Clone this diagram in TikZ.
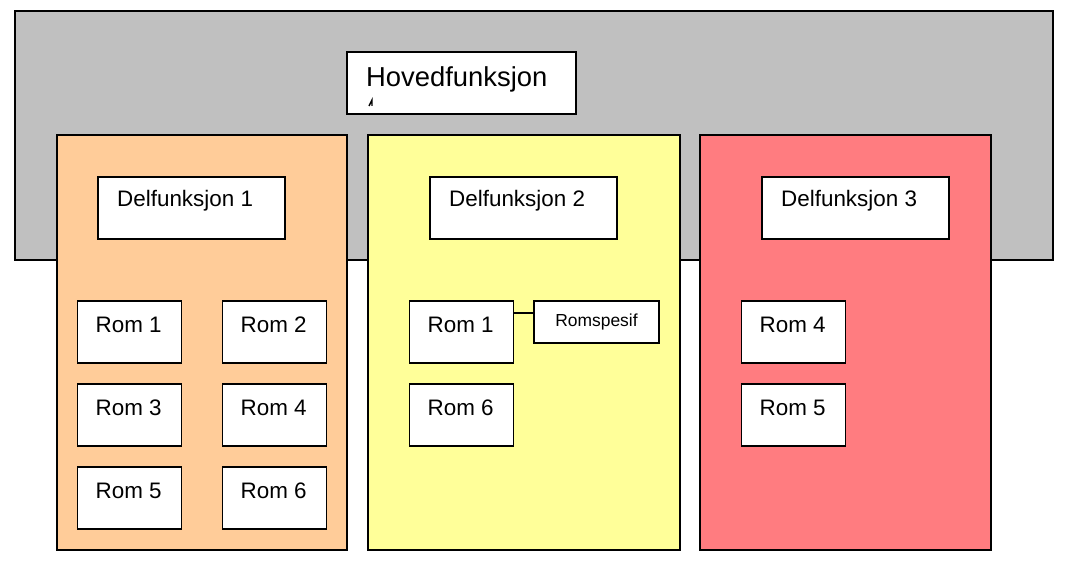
\documentclass[tikz,border=0pt]{standalone}
\usepackage{fontspec}
\setmainfont{Liberation Sans}
\begin{document}
\begin{tikzpicture}[x=1bp,y=-1bp,
  box/.style={draw=black,line width=1.3bp,fill=white,inner sep=0pt,outer sep=0pt,rectangle},
  panel/.style={draw=black,line width=1.3bp,inner sep=0pt,outer sep=0pt,rectangle},
  romtxt/.style={anchor=base west,inner sep=0pt,font=\fontsize{22.5}{26}\selectfont},
  deltxt/.style={anchor=base west,inner sep=0pt,font=\fontsize{22.5}{26}\selectfont},
]
\useasboundingbox (0,0) rectangle (1083,568);
% background panel
\node[panel,fill={rgb,255:red,192;green,192;blue,192},minimum width=1038bp,minimum height=249bp] (main) at (534,135.5) {};
\node[box,minimum width=229bp,minimum height=62bp] (hoved) at (461.5,83) {};
\node[anchor=base west,inner sep=0pt,font=\fontsize{27.5}{32}\selectfont] (hovedt) at ([xshift=19bp,yshift=-35bp]hoved.north west) {Hovedfunksjon};
\draw[line width=1.4bp] (369,106) -- (372,100) -- (372,106);
% coloured panels
\node[panel,fill={rgb,255:red,255;green,204;blue,153},minimum width=290bp,minimum height=415bp] (p1) at (202,342.5) {};
\node[panel,fill={rgb,255:red,255;green,255;blue,153},minimum width=312bp,minimum height=415bp] (p2) at (524,342.5) {};
\node[panel,fill={rgb,255:red,255;green,124;blue,128},minimum width=291bp,minimum height=415bp] (p3) at (845.5,342.5) {};
% delfunksjon boxes
\foreach \i/\x in {1/191.5,2/523.5,3/855.5}{
  \node[box,minimum width=187bp,minimum height=62bp] (d\i) at (\x,208) {};
  \node[deltxt] (d\i t) at ([xshift=19bp,yshift=-30bp]d\i.north west) {Delfunksjon \i};
}
% rom boxes
\foreach \n/\lab/\x/\y in {a/1/129.5/332, b/2/274.5/332, c/3/129.5/415, d/4/274.5/415, e/5/129.5/498, f/6/274.5/498,
                           g/1/461.5/332, h/6/461.5/415,
                           i/4/793.5/332, j/5/793.5/415}{
  \node[box,minimum width=104bp,minimum height=62bp] (r\n) at (\x,\y) {};
  \node[romtxt] (r\n t) at ([xshift=18bp,yshift=-31bp]r\n.north west) {Rom \lab};
}
% romspesif
\node[box,minimum width=125bp,minimum height=42bp,font=\fontsize{17.5}{20}\selectfont] (spes) at (596.5,322) {Romspesif};
\coordinate (ga) at ([yshift=-12bp]rg.north east);
\draw[line width=1.2bp] (ga) -- (ga -| spes.west);
\end{tikzpicture}
\end{document}
